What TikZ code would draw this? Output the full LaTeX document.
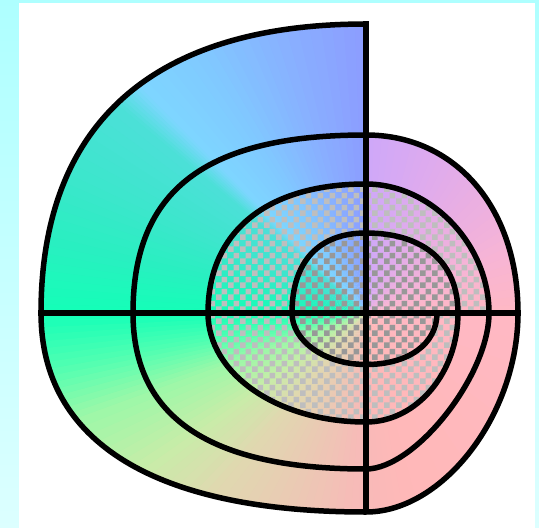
\documentclass[tikz,border=0pt]{standalone}
\usetikzlibrary{patterns.meta}
\definecolor{frameTop}{HTML}{AEFFFF}
\definecolor{frameBot}{HTML}{DCFFFF}
\definecolor{chkLight}{HTML}{BEBEBE}
\definecolor{chkDark}{HTML}{989898}
\definecolor{g0}{HTML}{FFB8C4}
\definecolor{g25}{HTML}{F6B4D6}
\definecolor{g50}{HTML}{E8AEE4}
\definecolor{g70}{HTML}{DCAAF0}
\definecolor{g90a}{HTML}{CEA8F8}
\definecolor{g90b}{HTML}{8C9CFF}
\definecolor{g108}{HTML}{88B2FF}
\definecolor{g122}{HTML}{80C8FF}
\definecolor{g135}{HTML}{7ED6FF}
\definecolor{g140}{HTML}{4CE0D8}
\definecolor{g155}{HTML}{3CE6CC}
\definecolor{g168}{HTML}{28F0C0}
\definecolor{g180}{HTML}{14FFB8}
\definecolor{g190}{HTML}{50FFB2}
\definecolor{g200}{HTML}{9CF8A8}
\definecolor{g215}{HTML}{C8ECA8}
\definecolor{g230}{HTML}{E0D8B0}
\definecolor{g250}{HTML}{ECC8B4}
\definecolor{g268}{HTML}{F8BAB8}
\definecolor{g285}{HTML}{FFB8B8}
\pgfdeclarepattern{
  name=pixcheck,
  type=uncolored,
  bottom left={\pgfpoint{0pt}{0pt}},
  top right={\pgfpoint{12pt}{12pt}},
  tile size={\pgfpoint{12pt}{12pt}},
  code={
    \pgfpathrectangle{\pgfpointorigin}{\pgfpoint{6pt}{6pt}}
    \pgfpathrectangle{\pgfpoint{6pt}{6pt}}{\pgfpoint{6pt}{6pt}}
    \pgfusepath{fill}
  }
}
\tikzset{
  spiralline/.style={line width=5.5pt, black, line join=round},
  axisline/.style={line width=6pt, black},
}
\begin{document}
\begin{tikzpicture}[x=1pt,y=-1pt]
\useasboundingbox (0,0) rectangle (539,528);
\shade[top color=frameTop, bottom color=frameBot] (0,0) rectangle (539,528);
\fill[white] (19,3) rectangle (535,528);
% key points
\coordinate (C) at (366,313);
\coordinate (R0) at (437,313);
\coordinate (B1) at (366,364.5);
\coordinate (L1) at (292,313);
\coordinate (T1) at (366,233);
\coordinate (R1) at (458,313);
\coordinate (B2) at (366,422);
\coordinate (L2) at (208,313);
\coordinate (T2) at (366,184);
\coordinate (R2) at (489,313);
\coordinate (B3) at (366,469);
\coordinate (L3) at (133,313);
\coordinate (T3) at (366,135);
\coordinate (R3) at (518,313);
\coordinate (B4) at (366,512);
\coordinate (L4) at (41,313);
\coordinate (T4) at (366,24);
\coordinate (VT) at (366,21);
\coordinate (VB) at (366,514);
\coordinate (HL) at (38,313);
\coordinate (HR) at (521,313);
% colour fill, clipped to the outer turn
\begin{scope}
\clip (T3) .. controls (455.7,135) and (518,208) .. (R3)
  .. controls (518,414) and (443.5,512) .. (B4)
  .. controls (154.75,512) and (41,441.7) .. (L4)
  .. controls (41,123.7) and (153.1,24) .. (T4) -- cycle;
\begin{scope}[shift={(C)}]
\foreach \pa/\pb/\ca/\cb in {0/25/g0/g25, 25/50/g25/g50, 50/70/g50/g70, 70/90/g70/g90a,
  90/108/g90b/g108, 108/122/g108/g122, 122/135/g122/g135, 135/140/g135/g140,
  140/155/g140/g155, 155/168/g155/g168, 168/180/g168/g180, 180/190/g180/g190,
  190/200/g190/g200, 200/215/g200/g215, 215/230/g215/g230, 230/250/g230/g250,
  250/268/g250/g268, 268/285/g268/g285, 285/360/g285/g0}{
  \foreach \i in {0,...,7}{
    \pgfmathsetmacro\ta{\pa+(\pb-\pa)*\i/8}
    \pgfmathsetmacro\tb{\pa+(\pb-\pa)*(\i+1)/8+0.5}
    \pgfmathtruncatemacro\pct{100-(\i+0.5)*100/8}
    \fill[\ca!\pct!\cb] (0,0) -- (-\ta:460) -- (-\tb:460) -- cycle;
  }
}
\end{scope}
\end{scope}
% checkered turns
\fill[pattern=pixcheck, pattern color=chkLight, even odd rule]
  (R1) .. controls (458,373) and (416.6,422) .. (B2)
  .. controls (277.5,422) and (208,374) .. (L2)
  .. controls (208,231.7) and (266.5,184) .. (T2)
  .. controls (431.2,184) and (489,244.6) .. (R2) -- cycle
  (R0) .. controls (437,343.9) and (408.6,364.5) .. (B1)
  .. controls (325.3,364.5) and (292,341.3) .. (L1)
  .. controls (292,261.8) and (318.6,233) .. (T1)
  .. controls (424,233) and (458,262.6) .. (R1) -- cycle;
\fill[pattern=pixcheck, pattern color=chkDark]
  (R0) .. controls (437,343.9) and (408.6,364.5) .. (B1)
  .. controls (325.3,364.5) and (292,341.3) .. (L1)
  .. controls (292,261.8) and (318.6,233) .. (T1)
  .. controls (424,233) and (458,262.6) .. (R1) -- cycle;
% the spiral
\draw[spiralline] (R0)
  .. controls (437,343.9) and (408.6,364.5) .. (B1)
  .. controls (325.3,364.5) and (292,341.3) .. (L1)
  .. controls (292,261.8) and (318.6,233) .. (T1)
  .. controls (424,233) and (458,262.6) .. (R1)
  .. controls (458,373) and (416.6,422) .. (B2)
  .. controls (277.5,422) and (208,374) .. (L2)
  .. controls (208,231.7) and (266.5,184) .. (T2)
  .. controls (431.2,184) and (489,244.6) .. (R2)
  .. controls (489,375.4) and (415.2,469) .. (B3)
  .. controls (209.9,469) and (133,417.5) .. (L3)
  .. controls (133,190.2) and (205.2,135) .. (T3)
  .. controls (455.7,135) and (518,208) .. (R3)
  .. controls (518,414) and (443.5,512) .. (B4)
  .. controls (154.75,512) and (41,441.7) .. (L4)
  .. controls (41,123.7) and (153.1,24) .. (T4);
% axes
\draw[axisline] (VT) -- (VB);
\draw[axisline] (HL) -- (HR);
\end{tikzpicture}
\end{document}
